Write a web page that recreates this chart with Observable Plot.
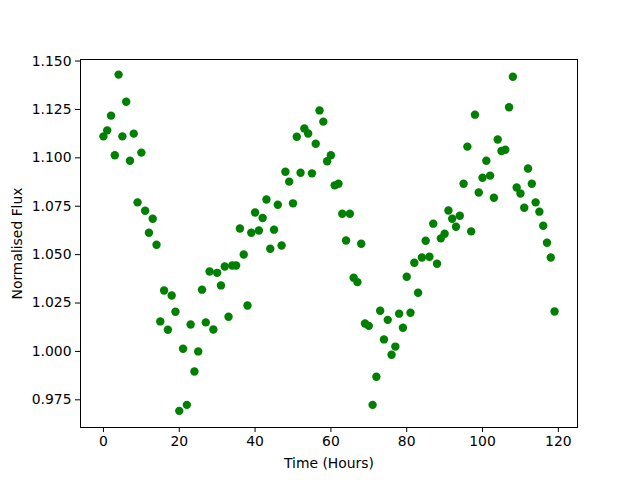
<!DOCTYPE html>
<html>
<head>
<meta charset="utf-8">
<script src="https://cdn.jsdelivr.net/npm/d3@7"></script>
<script src="https://cdn.jsdelivr.net/npm/@observablehq/plot@0.6"></script>
<style>
  html, body { margin: 0; padding: 0; background: #fff; }
</style>
</head>
<body>
<div id="chart"></div>
<script>
const hours = d3.range(0, 120);
const flux = [
  1.1111, 1.1142, 1.1218, 1.1013, 1.1430, 1.1111, 1.1290, 1.0985, 1.1125, 1.0770,
  1.1027, 1.0727, 1.0613, 1.0685, 1.0551, 1.0155, 1.0315, 1.0112, 1.0289, 1.0205,
  0.9693, 1.0014, 0.9724, 1.0139, 0.9896, 1.0000, 1.0319, 1.0150, 1.0413, 1.0113,
  1.0406, 1.0341, 1.0439, 1.0179, 1.0444, 1.0444, 1.0635, 1.0501, 1.0237, 1.0613,
  1.0718, 1.0625, 1.0689, 1.0785, 1.0530, 1.0629, 1.0758, 1.0547, 1.0928, 1.0877,
  1.0765, 1.1109, 1.0923, 1.1152, 1.1126, 1.0920, 1.1073, 1.1245, 1.1187, 1.0982,
  1.1013, 1.0858, 1.0866, 1.0711, 1.0573, 1.0711, 1.0381, 1.0358, 1.0556, 1.0144,
  1.0132, 0.9724, 0.9869, 1.0210, 1.0062, 1.0163, 0.9983, 1.0025, 1.0195, 1.0122,
  1.0386, 1.0200, 1.0458, 1.0303, 1.0485, 1.0572, 1.0489, 1.0660, 1.0453, 1.0584,
  1.0608, 1.0728, 1.0685, 1.0644, 1.0701, 1.0866, 1.1058, 1.0620, 1.1223, 1.0821,
  1.0897, 1.0985, 1.0908, 1.0794, 1.1095, 1.1035, 1.1042, 1.1261, 1.1419, 1.0847,
  1.0816, 1.0742, 1.0945, 1.0866, 1.0770, 1.0722, 1.0649, 1.0561, 1.0485, 1.0206
];
const xTicks = [0, 20, 40, 60, 80, 100, 120];
const yTicks = [0.975, 1.000, 1.025, 1.050, 1.075, 1.100, 1.125, 1.150];

const data = hours.map((h, i) => ({hour: h, flux: flux[i]}));

const chart = Plot.plot({
  width: 640,
  height: 480,
  marginLeft: 80,
  marginRight: 63,
  marginTop: 59,
  marginBottom: 53,
  style: {fontFamily: "'DejaVu Sans', sans-serif", fontSize: "13.9px", background: "#fff", color: "#000"},
  x: {domain: [-6.05, 125.05]},
  y: {domain: [0.9607, 1.1508]},
  marks: [
    Plot.frame({stroke: "#000", strokeWidth: 1}),
    Plot.dot(data, {x: "hour", y: "flux", r: 4.2, fill: "#008000", stroke: "none"}),
    Plot.axisX({ticks: xTicks, tickSize: 5, tickPadding: 4, label: "Time (Hours)", labelAnchor: "center", labelArrow: "none", labelOffset: 40, stroke: "#000"}),
    Plot.axisY({ticks: yTicks, tickSize: 5, tickPadding: 4, tickFormat: d3.format(".3f"), label: "Normalised Flux", labelAnchor: "center", labelArrow: "none", labelOffset: 68, stroke: "#000"})
  ]
});
document.getElementById("chart").appendChild(chart);
</script>
</body>
</html>
